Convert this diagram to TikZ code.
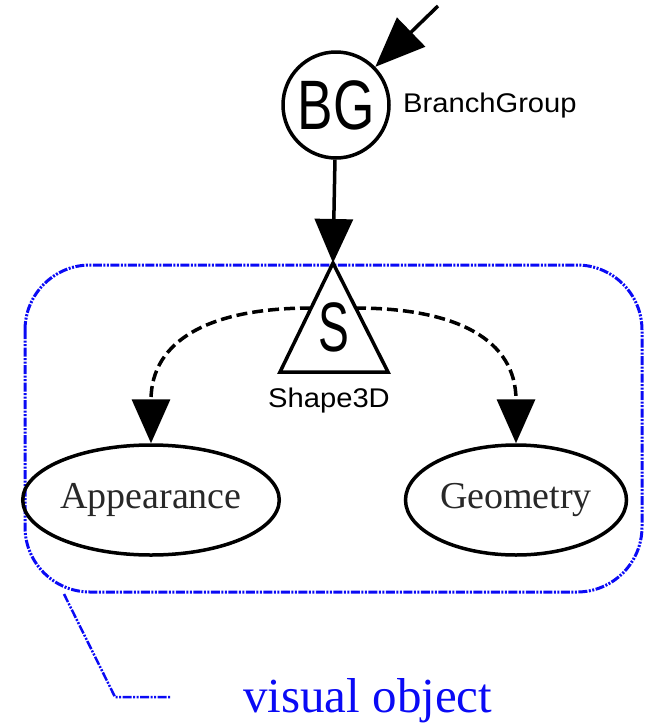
\documentclass[tikz,border=0pt]{standalone}
\usepackage{fontspec}
\setmainfont{Liberation Serif}
\setsansfont{Liberation Sans}
\usetikzlibrary{arrows.meta,shapes.geometric}
\definecolor{vblue}{RGB}{10,10,245}
\definecolor{ltxt}{RGB}{40,40,40}
\tikzset{
  blk/.style={line width=3.5pt, draw=black},
  bigtip/.style={-{Triangle[length=44pt,width=38pt]}},
  hugetip/.style={-{Triangle[length=50pt,width=40pt]}},
  dsh/.style={line width=3.5pt, dash pattern=on 11pt off 5pt},
  ell/.style={ellipse, draw, line width=3.5pt, minimum width=221pt, minimum height=110pt, inner sep=0pt,
    font=\fontsize{38}{40}\selectfont, text=ltxt},
  bluel/.style={draw=vblue, line width=3pt, dash pattern=on 9pt off 1.5pt on 2pt off 1.5pt on 2pt off 1.5pt},
  lbl/.style={font=\sffamily\fontsize{27}{30}\selectfont, inner sep=0pt}
}
\begin{document}
\begin{tikzpicture}[x=1pt,y=-1pt]
\useasboundingbox (0,0) rectangle (646,726);
% blue visual object box
\draw[bluel, rounded corners=65pt] (25,265) rectangle (642,592);
% BranchGroup
\node[circle, blk, minimum size=106pt, inner sep=0pt] (bg) at (336,105)
  {\fontsize{70}{70}\selectfont\sffamily\scalebox{0.76}[1]{BG}};
\node[lbl, anchor=base west] (bgl) at (403,112) {\scalebox{1.08}[1]{BranchGroup}};
\coordinate (top) at (438,6);
\draw[blk, hugetip] (top) -- (bg);
% Shape3D triangle
\coordinate (apex) at (333,263);
\coordinate (bl) at (280,372);
\coordinate (br) at (388,372);
\draw[blk, line join=miter] (apex) -- (bl) -- (br) -- cycle;
\node[inner sep=0pt] (s) at (334,327) {\fontsize{70}{70}\selectfont\sffamily\scalebox{0.66}[1]{S}};
\node[lbl, anchor=base] (sl) at (329,407) {\scalebox{1.08}[1]{Shape3D}};
\draw[blk, bigtip] (bg) -- (apex);
\coordinate (tl) at (311,308);
\coordinate (tr) at (355,308);
% ellipses
\node[ell] (app) at (151,500) {Appearance};
\node[ell] (geo) at (516,500) {Geometry};
\draw[dsh, bigtip, looseness=1.25] (tl) to[out=180,in=90] (app.north);
\draw[dsh, bigtip, looseness=1.25] (tr) to[out=0,in=90] (geo.north);
% leader and label
\coordinate (l1) at (64,594);
\coordinate (l2) at (115,697);
\coordinate (l3) at (171,697);
\draw[bluel, line width=2.5pt] (l1) -- (l2) -- (l3);
\node[anchor=base west, inner sep=0pt, text=vblue, font=\fontsize{49}{52}\selectfont] (vo) at (243,712) {visual object};
\end{tikzpicture}
\end{document}
